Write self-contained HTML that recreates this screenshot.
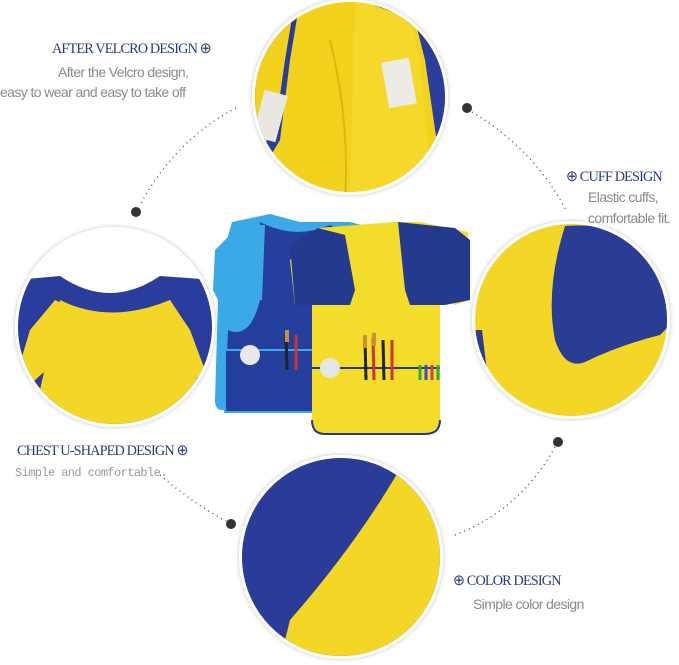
<!DOCTYPE html>
<html><head><meta charset="utf-8"><style>
html,body{margin:0;padding:0;background:#fff;}
body{width:679px;height:665px;position:relative;overflow:hidden;font-family:"Liberation Sans",sans-serif;}
.t{position:absolute;white-space:nowrap;}
.h{color:#2b3a78;font-family:"Liberation Serif",serif;font-size:15px;letter-spacing:-0.9px;transform:scaleX(0.95);transform-origin:left;}
.s{color:#8a8a8a;font-size:14px;letter-spacing:-0.6px;}
</style></head><body>
<svg width="679" height="665" style="position:absolute;left:0;top:0">
<defs>
<clipPath id="c1"><circle cx="350" cy="97" r="95"/></clipPath>
<clipPath id="c2"><circle cx="115" cy="327" r="97"/></clipPath>
<clipPath id="c3"><circle cx="571" cy="320" r="96"/></clipPath>
<clipPath id="c4"><circle cx="341" cy="557" r="99"/></clipPath>
<filter id="sh"><feDropShadow dx="0" dy="0" stdDeviation="2" flood-color="#000" flood-opacity="0.25"/></filter>
</defs>
<g fill="none" stroke="#444" stroke-width="1.3" stroke-dasharray="1 4">
<path d="M236,108 Q175,140 140,205"/>
<path d="M472,112 Q535,150 567,212"/>
<path d="M160,475 Q195,505 228,522"/>
<path d="M455,535 Q520,510 555,447"/>
</g>
<g fill="#333"><circle cx="136" cy="212" r="5"/><circle cx="467" cy="108" r="5"/><circle cx="231" cy="524" r="5"/><circle cx="558" cy="442" r="5"/></g>
<g fill="#fff" filter="url(#sh)">
<circle cx="350" cy="97" r="98"/><circle cx="115" cy="327" r="100"/><circle cx="571" cy="320" r="99"/><circle cx="341" cy="557" r="102"/>
</g>
<g clip-path="url(#c1)">
<rect x="250" y="0" width="200" height="200" fill="#f3d21d"/>
<path d="M250,0 L300,0 L290,60 L280,140 L262,170 L250,170Z" fill="#2a3c9c"/>
<path d="M255,0 L295,0 L285,60 L275,130 L260,150 L255,150Z" fill="#f3d21d"/>
<rect x="258" y="92" width="24" height="48" fill="#e8e8e0" transform="rotate(15 270 116)"/>
<path d="M360,0 L450,0 L450,200 L440,200 L438,150 L425,60 L415,20Z" fill="#2a3c9c"/>
<path d="M355,0 L410,20 L420,60 L428,150 L430,200 L350,200 L352,120Z" fill="#f5d82a"/>
<rect x="385" y="60" width="28" height="46" fill="#ecece4" transform="rotate(-10 399 83)"/>
<path d="M330,40 Q350,120 345,200" stroke="#d9b80e" stroke-width="2" fill="none"/>
</g>
<g clip-path="url(#c2)">
<rect x="15" y="225" width="200" height="205" fill="#fff"/>
<path d="M15,280 L60,276 Q110,310 160,276 L215,280 L215,430 L15,430Z" fill="#2a3c9c"/>
<path d="M40,390 L60,300 Q110,325 170,300 L195,370 L205,440 L35,440Z" fill="#f3d626"/>
<path d="M18,370 L30,330 L55,300 Q110,330 170,300 L190,330 L205,370 L195,380 Q115,300 30,385Z" fill="#f3d626"/>
</g>
<g clip-path="url(#c3)">
<rect x="470" y="220" width="205" height="200" fill="#f3d626"/>
<path d="M565,226 Q620,222 668,250 L675,320 L660,335 Q620,345 585,362 Q565,370 555,340 Q545,290 565,226Z" fill="#2b3c94"/>
<path d="M475,330 L480,380 L488,380 L482,330Z" fill="#2b3c94"/>
</g>
<g clip-path="url(#c4)">
<rect x="240" y="455" width="205" height="205" fill="#2a3b98"/>
<path d="M405,460 Q360,540 290,620 L280,660 L445,660 L445,460Z" fill="#f3d626"/>
</g>
<path d="M232,222 L270,214 L300,222 L350,222 L390,232 L392,410 L222,410 Q215,410 215,400 L218,300 L213,290 Z" fill="#3aa9e6"/>
<path d="M260,222 Q295,240 330,225 L340,230 L390,232 L392,405 L225,405 L228,330 Q250,340 260,300Z" fill="#253f9e"/>
<path d="M215,250 L240,225 L265,225 L262,300 L230,300 L213,290Z" fill="#3aa9e6"/>
<path d="M225,350 L392,350 L392,412 L225,412Z" fill="#253f9e" stroke="#3aa9e6" stroke-width="2"/>
<circle cx="250" cy="355" r="10" fill="#e8e8ea"/>
<path d="M318,228 L395,222 L420,222 L468,232 L470,300 L455,305 L440,290 L440,420 Q440,434 425,434 L325,434 Q312,434 312,420 L312,300 L295,305 L290,260Z" fill="#f4dc2a"/>
<path d="M290,245 L318,228 L345,235 L355,290 L350,305 L312,305 L295,305Z" fill="#233a8f"/>
<path d="M398,222 L455,228 L470,240 L470,300 L445,305 L410,305 L405,290 Z" fill="#233a8f"/>
<path d="M312,368 L440,368" stroke="#233a8f" stroke-width="2"/>
<path d="M312,420 Q312,434 325,434 L425,434 Q440,434 440,420" stroke="#233a8f" stroke-width="2" fill="none"/>
<circle cx="330" cy="368" r="10" fill="#e6e6e0"/>
<g stroke-width="3">
<line x1="365" y1="340" x2="366" y2="380" stroke="#222"/><line x1="373" y1="338" x2="374" y2="380" stroke="#c33"/>
<line x1="383" y1="340" x2="384" y2="380" stroke="#222"/><line x1="392" y1="340" x2="392" y2="380" stroke="#c33"/>
<line x1="286" y1="335" x2="287" y2="370" stroke="#222"/><line x1="296" y1="335" x2="296" y2="370" stroke="#c33"/>
</g>
<g stroke="#c8903c" stroke-width="4"><line x1="365" y1="335" x2="365" y2="348"/><line x1="374" y1="333" x2="374" y2="346"/><line x1="287" y1="330" x2="287" y2="342"/></g>
<g stroke-width="3"><line x1="420" y1="365" x2="420" y2="380" stroke="#3a3"/><line x1="426" y1="365" x2="426" y2="380" stroke="#44c"/><line x1="432" y1="365" x2="432" y2="380" stroke="#c44"/><line x1="438" y1="365" x2="438" y2="380" stroke="#3a3"/></g>
</svg>
<div class="t h" style="left:52px;top:39px">AFTER VELCRO DESIGN ⊕</div>
<div class="t s" style="left:58px;top:64px">After the Velcro design,</div>
<div class="t s" style="left:0px;top:84px">easy to wear and easy to take off</div>
<div class="t h" style="left:566px;top:167px">⊕ CUFF DESIGN</div>
<div class="t s" style="left:588px;top:189px">Elastic cuffs,</div>
<div class="t s" style="left:588px;top:210px">comfortable fit.</div>
<div class="t h" style="left:17px;top:441px">CHEST U-SHAPED DESIGN ⊕</div>
<div class="t" style="left:15px;top:466px;color:#999;font-family:'Liberation Mono',monospace;font-size:12px;letter-spacing:-0.6px">Simple and comfortable.</div>
<div class="t h" style="left:453px;top:571px">⊕ COLOR DESIGN</div>
<div class="t s" style="left:473px;top:596px">Simple color design</div>
</body></html>
